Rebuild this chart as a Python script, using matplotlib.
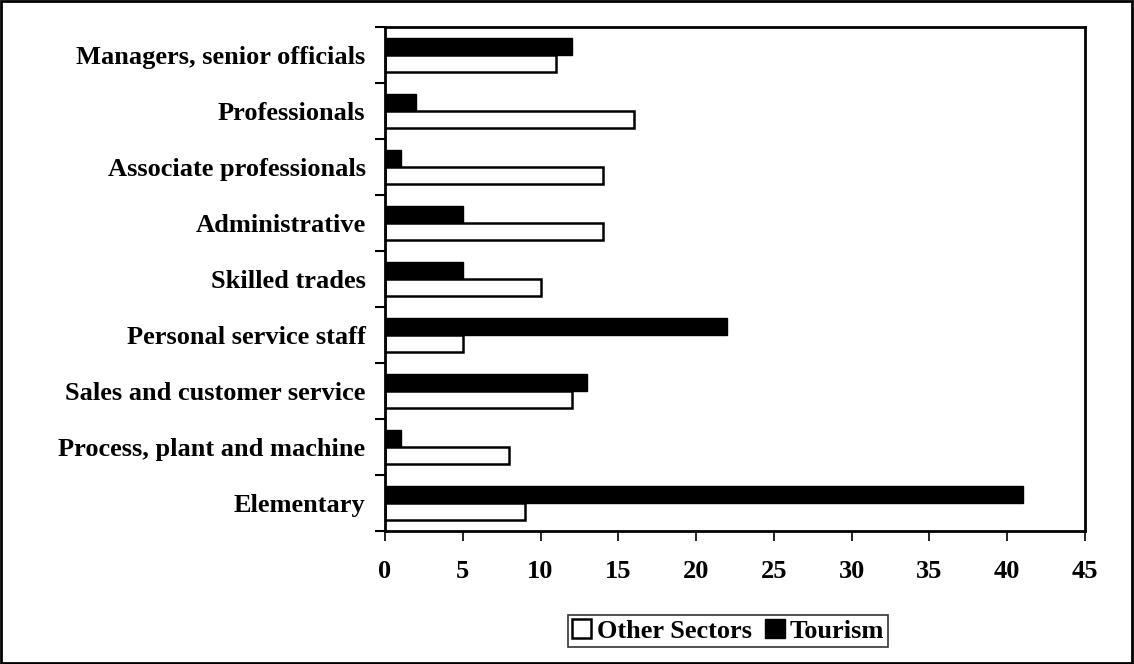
import matplotlib.pyplot as plt
import numpy as np
from matplotlib.patches import Rectangle

categories = ["Managers, senior officials", "Professionals", "Associate professionals",
              "Administrative", "Skilled trades", "Personal service staff",
              "Sales and customer service", "Process, plant and machine", "Elementary"]
other_sectors = [11, 16, 14, 14, 10, 5, 12, 8, 9]
tourism = [12, 2, 1, 5, 5, 22, 13, 1, 41]
xticks = [0, 5, 10, 15, 20, 25, 30, 35, 40, 45]

plt.rcParams['font.family'] = ['Liberation Serif', 'DejaVu Serif']
plt.rcParams['font.weight'] = 'bold'

fig = plt.figure(figsize=(11.34, 6.64), dpi=100)
ax = fig.add_axes([385 / 1134, 1 - 531 / 664, 700 / 1134, 504 / 664])

n = len(categories)
y = np.arange(n)[::-1].astype(float)
h = 0.30
ax.barh(y + h / 2, tourism, height=h, color='black', edgecolor='black',
        linewidth=1, label='Tourism')
ax.barh(y - h / 2, other_sectors, height=h, color='white', edgecolor='black',
        linewidth=1.8, label='Other Sectors')

ax.set_xlim(0, 45)
ax.set_ylim(-0.5, n - 0.5)
ax.set_xticks(xticks)
ax.set_xticklabels([str(v) for v in xticks], fontsize=19, fontweight='bold')
ax.set_yticks(y)
ax.set_yticklabels(categories, fontsize=19, fontweight='bold')
ax.set_yticks(np.arange(n + 1) - 0.5, minor=True)
ax.tick_params(axis='y', which='major', length=0, pad=14)
ax.tick_params(axis='y', which='minor', length=7, width=1.5, direction='out')
ax.tick_params(axis='x', which='major', length=7, width=1.2, direction='out', pad=14)
for s in ax.spines.values():
    s.set_linewidth(2)

handles, labels = ax.get_legend_handles_labels()
leg = fig.legend(handles[::-1], labels[::-1], loc='center', bbox_to_anchor=(728 / 1134, 1 - 631 / 664),
                 ncol=2, frameon=True, fancybox=False, edgecolor='black',
                 prop={'size': 19, 'weight': 'bold'}, handlelength=0.75, handleheight=0.75,
                 handletextpad=0.2, columnspacing=0.5, borderpad=0.15, borderaxespad=0)
leg.get_frame().set_linewidth(1.2)

fig.patches.append(Rectangle((0.001, 0.002), 0.997, 0.996, transform=fig.transFigure,
                             fill=False, edgecolor='black', linewidth=2))

fig.savefig("out.png", dpi=100)
